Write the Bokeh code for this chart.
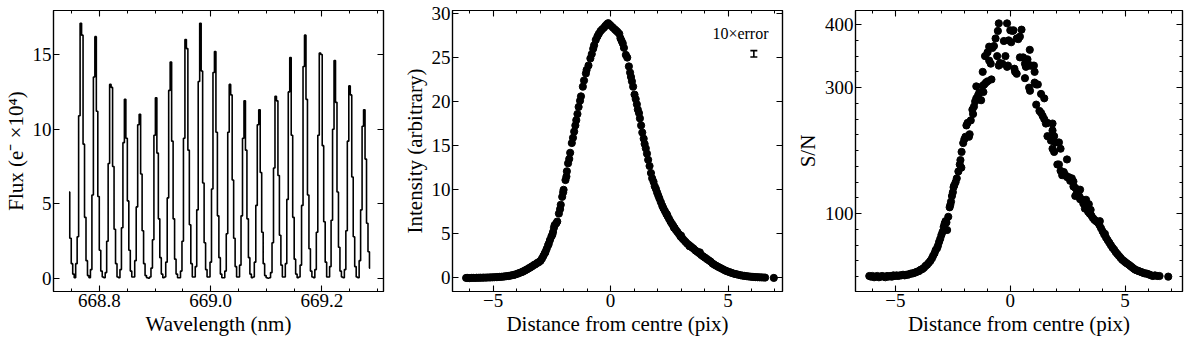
import numpy as np
from bokeh.plotting import figure
from bokeh.layouts import row
from bokeh.models import (Range1d, LinearAxis, FixedTicker, ColumnDataSource, Whisker, TeeHead,
                          CustomJSTickFormatter)
from bokeh.embed import file_html
from bokeh.resources import INLINE
from bokeh.core.properties import value

FONT = "Liberation Serif"

# ---------------- Panel 1: comb spectrum (step plot) ----------------
wl_start = 668.7455
wl_step = 0.002653
flux = [
    5.8, 2.7, 1.0, 0.3,
    0.05, 1.0, 2.8, 10.9, 17.1, 16.3, 9.0, 4.1, 1.2, 0.2,
    0.05, 0.6, 5.6, 13.5, 16.2, 11.2, 5.5, 1.9, 0.5, 0.1,
    0.05, 0.4, 2.5, 7.7, 13.0, 12.8, 7.5, 3.3, 1.0, 0.1,
    0.05, 0.6, 3.4, 9.1, 12.0, 9.4, 5.2, 1.9, 0.5, 0.1,
    0.1, 1.2, 4.8, 10.3, 11.0, 7.0, 3.2, 1.0, 0.2, 0.05, 0.02,
    0.1, 0.7, 2.6, 9.6, 12.1, 8.4, 4.0, 1.4, 0.3, 0.05,
    0.1, 1.1, 5.4, 12.6, 14.5, 9.2, 4.0, 1.3, 0.3, 0.05,
    0.05, 0.5, 2.5, 9.4, 16.0, 15.4, 8.6, 3.6, 1.0, 0.1,
    0.1, 0.8, 4.6, 13.2, 17.1, 13.9, 6.4, 2.4, 0.6, 0.1,
    0.1, 1.1, 6.0, 13.8, 15.2, 9.8, 4.2, 1.4, 0.3, 0.05,
    0.05, 0.5, 3.0, 9.8, 13.0, 12.3, 6.6, 2.7, 0.8, 0.1,
    0.1, 0.9, 4.2, 9.4, 11.9, 8.6, 4.0, 1.4, 0.3, 0.05,
    0.1, 1.1, 4.9, 10.3, 11.3, 7.1, 3.1, 1.0, 0.2, 0.05, 0.02,
    0.05, 0.4, 2.4, 7.4, 12.2, 11.9, 6.9, 2.9, 0.9, 0.1,
    0.1, 1.0, 5.3, 12.5, 14.8, 9.6, 4.1, 1.3, 0.3, 0.05,
    0.1, 0.9, 4.9, 14.2, 16.3, 12.0, 5.6, 2.0, 0.5, 0.1,
    0.05, 0.6, 3.1, 9.6, 15.1, 15.0, 8.9, 3.8, 1.1, 0.1,
    0.1, 0.8, 3.9, 10.0, 14.6, 11.8, 5.8, 2.1, 0.5, 0.1,
    0.05, 0.6, 3.2, 9.2, 12.9, 12.3, 6.8, 2.8, 0.8, 0.1,
    0.05, 1.2, 4.6, 10.2, 11.3, 8.0, 3.7, 1.8, 0.7,
]
wl = wl_start + wl_step * np.arange(len(flux))
p1_xticks = [668.8, 669.0, 669.2]
p1_xlabels = ["668.8", "669.0", "669.2"]
p1_xminor = [668.75, 668.85, 668.9, 668.95, 669.05, 669.1, 669.15, 669.25, 669.3]
p1_yticks = [0, 5, 10, 15]

# ---------------- Panel 2: intensity profile ----------------
mid_x = [-6.15, -6.08, -6.0, -5.92, -5.85, -5.77, -5.7, -5.62, -5.55, -5.47, -5.4, -5.32,
         -5.25, -5.17, -5.1, -5.02, -4.95, -4.87, -4.8, -4.72, -4.65, -4.57, -4.5, -4.42,
         -4.35, -4.27, -4.2, -4.12, -4.05, -3.97, -3.9,
         -3.82, -3.75, -3.69, -3.62, -3.55, -3.48, -3.41, -3.35, -3.27, -3.2, -3.12, -3.05,
         -2.98, -2.92, -2.86, -2.8, -2.77, -2.72, -2.66, -2.63, -2.58, -2.52, -2.48, -2.45,
         -2.41, -2.38, -2.31, -2.27, -2.2, -2.15, -2.12, -2.06, -2.02, -2.0, -1.92, -1.88,
         -1.86, -1.81, -1.76, -1.72, -1.65, -1.6, -1.55, -1.5, -1.46, -1.41, -1.36, -1.3,
         -1.26, -1.18, -1.13, -1.05, -1.02, -0.94, -0.86, -0.8, -0.74, -0.7, -0.63, -0.56,
         -0.5, -0.43, -0.36, -0.28, -0.22, -0.15, -0.1, -0.04, 0.02, 0.1, 0.18, 0.24, 0.3,
         0.37, 0.42, 0.47, 0.52, 0.57, 0.65, 0.71, 0.78, 0.83, 0.87, 0.91, 0.96, 1.02, 1.07,
         1.12, 1.16, 1.21, 1.25, 1.3, 1.35, 1.41, 1.45, 1.5, 1.55, 1.6, 1.66, 1.72, 1.77,
         1.83, 1.88, 1.93, 1.98, 2.03, 2.08, 2.14, 2.2, 2.25, 2.31, 2.37, 2.4, 2.43, 2.49,
         2.55, 2.61, 2.67, 2.7, 2.73, 2.79, 2.85, 2.92, 2.98, 3.0, 3.05, 3.12, 3.19, 3.26,
         3.33, 3.36, 3.4, 3.47, 3.54, 3.62, 3.7, 3.78, 3.8, 3.86, 3.94, 4.02, 4.1, 4.18,
         4.26, 4.34, 4.42, 4.5, 4.58, 4.66, 4.74, 4.82, 4.9, 4.98, 5.06, 5.14, 5.22, 5.3,
         5.38, 5.46, 5.54, 5.62, 5.7, 5.78, 5.86, 5.94, 6.02, 6.1, 6.18, 6.26, 6.34, 6.42,
         6.5, 6.58, 6.95]
mid_y = [0.0, 0.0, -0.02, 0.0, 0.01, 0.0, 0.02, 0.01, 0.03, 0.02, 0.04, 0.03,
         0.05, 0.05, 0.06, 0.07, 0.08, 0.09, 0.1, 0.12, 0.13, 0.15, 0.17, 0.2,
         0.22, 0.26, 0.3, 0.34, 0.4, 0.46, 0.55,
         0.62, 0.7, 0.78, 0.88, 0.98, 1.1, 1.2, 1.3, 1.45, 1.55, 1.7, 1.8,
         1.95, 2.2, 2.5, 2.8, 2.95, 3.3, 3.7, 3.9, 4.3, 4.7, 4.9, 5.2,
         5.7, 6.0, 6.2, 6.4, 7.3, 7.8, 8.3, 9.2, 9.7, 10.0, 11.1, 11.5,
         12.1, 13.0, 13.5, 14.2, 15.3, 15.9, 16.6, 17.3, 17.9, 18.6, 19.4, 20.1,
         20.6, 21.7, 22.4, 23.2, 23.6, 24.1, 24.9, 25.4, 26.0, 26.4, 27.0, 27.4,
         27.7, 28.0, 28.2, 28.4, 28.6, 28.8, 28.9, 28.75, 28.6, 28.4, 28.2, 28.05, 27.9,
         27.7, 27.2, 26.9, 26.6, 26.1, 25.3, 25.0, 24.0, 23.3, 22.8, 22.3, 21.7, 20.8, 20.3,
         19.7, 19.1, 18.7, 18.1, 17.3, 16.5, 15.8, 15.2, 14.7, 14.1, 13.4, 12.7, 11.9, 11.3,
         10.9, 10.4, 10.1, 9.7, 9.35, 9.0, 8.6, 8.2, 7.9, 7.6, 7.3, 7.2, 7.0, 6.7,
         6.4, 6.15, 5.9, 5.7, 5.65, 5.4, 5.2, 4.95, 4.7, 4.8, 4.5, 4.3, 4.1, 3.9,
         3.75, 3.6, 3.6, 3.45, 3.3, 3.1, 2.95, 2.8, 2.9, 2.6, 2.45, 2.3, 2.15, 2.0,
         1.85, 1.65, 1.5, 1.38, 1.26, 1.15, 1.04, 0.93, 0.82, 0.74, 0.66, 0.58, 0.51, 0.45,
         0.4, 0.35, 0.3, 0.26, 0.23, 0.2, 0.17, 0.15, 0.13, 0.11, 0.09, 0.08, 0.07, 0.06,
         0.05, 0.04, 0.0]
err_x = [6.1]
err_y = [25.43]
err_half = [0.36]
err_text = "10×error"
err_text_pos = (5.53, 27.76)

# ---------------- Panel 3: S/N ----------------
sn_x = [-6.14, -6.07, -6.0, -5.93, -5.86, -5.79, -5.72, -5.65, -5.58, -5.51, -5.44, -5.37,
        -5.3, -5.23, -5.16, -5.09, -5.02, -4.95, -4.88, -4.81, -4.74, -4.67, -4.6, -4.53,
        -4.46, -4.39, -4.32, -4.25, -4.18, -4.11, -4.04, -3.97, -3.9, -3.83, -3.76, -3.69,
        -3.62, -3.55, -3.48, -3.41, -3.36, -3.3, -3.25, -3.19, -3.15, -3.1, -3.05, -3.0,
        -2.95, -2.9, -2.86, -2.82, -2.78, -2.75, -2.7, -2.64, -2.61, -2.58, -2.54, -2.5,
        -2.47, -2.44, -2.38, -2.33, -2.26, -2.2, -2.17, -2.13, -2.12, -2.05, -2.0, -1.95,
        -1.91, -1.86, -1.8, -1.77, -1.72, -1.65, -1.62, -1.58, -1.53, -1.48, -1.48, -1.4,
        -1.35, -1.27, -1.2, -1.2, -1.17, -1.13, -1.1, -1.06, -0.99, -0.99, -0.92, -0.92,
        -0.85, -0.82, -0.78, -0.71, -0.64, -0.57, -0.54, -0.5, -0.5, -0.45, -0.35, -0.28,
        -0.21, -0.14, -0.14, -0.1, -0.07, 0.0, 0.04, 0.1, 0.14, 0.18, 0.21, 0.28, 0.28,
        0.35, 0.42, 0.42, 0.49, 0.56, 0.64, 0.64, 0.68, 0.75, 0.82, 0.85, 0.85, 0.86, 0.92,
        1.03, 1.06, 1.06, 1.13, 1.13, 1.2, 1.27, 1.34, 1.34, 1.41, 1.48, 1.48, 1.55, 1.62,
        1.62, 1.77, 1.84, 1.84, 1.84, 1.91, 1.91, 1.91, 1.98, 2.05, 2.12, 2.12, 2.19, 2.19,
        2.26, 2.33, 2.4, 2.47, 2.47, 2.54, 2.61, 2.61, 2.68, 2.75, 2.75, 2.83, 2.83, 2.9,
        2.97, 3.0, 3.04, 3.04, 3.1, 3.18, 3.25, 3.3, 3.32, 3.39, 3.42, 3.46, 3.5, 3.53,
        3.6, 3.67, 3.74, 3.81, 3.88, 3.9, 3.95, 4.02, 4.09, 4.12, 4.17, 4.24, 4.31, 4.38,
        4.45, 4.52, 4.59, 4.66, 4.73, 4.8, 4.87, 4.94, 5.01, 5.08, 5.16, 5.23, 5.3, 5.37,
        5.44, 5.51, 5.58, 5.65, 5.72, 5.79, 5.86, 5.93, 6.0, 6.07, 6.14, 6.21, 6.3, 6.4,
        6.5, 6.88]
sn_y = [1, 0, 1, -1, 0, 1, -1, 0, 1, 0, -1, 1,
        0, 1, 0, 2, 1, 2, 1, 2, 2, 3, 2, 3,
        3, 4, 5, 5, 6, 7, 8, 9, 11, 12, 14, 17,
        19, 22, 25, 29, 33, 37, 42, 45, 49, 55, 60, 66,
        71, 79, 84, 88, 86, 74, 95, 110, 114, 119, 128, 134,
        142, 145, 150, 156, 167, 178, 185, 173, 198, 212, 218, 222,
        240, 244, 222, 226, 248, 265, 258, 270, 278, 283, 302, 288,
        292, 280, 303, 325, 293, 305, 350, 308, 310, 356, 343, 365,
        338, 313, 363, 366, 378, 350, 390, 402, 335, 339, 338, 374,
        350, 402, 333, 335, 375, 391, 372, 390, 391, 330, 325, 322, 378,
        377, 381, 348, 392, 348, 338, 315, 333, 345, 300, 360, 335, 295, 335,
        335, 325, 308, 305, 273, 305, 263, 290, 260, 255, 283, 250, 243, 244,
        223, 216, 243, 232, 203, 223, 214, 198, 213, 178, 213, 178, 203, 168,
        161, 166, 161, 186, 158, 158, 152, 156, 156, 143, 151, 141, 128, 133,
        136, 128, 123, 138, 123, 116, 108, 122, 113, 103, 115, 100, 106, 97,
        93, 90, 88, 86, 82, 88, 77, 72, 67, 68, 62, 58, 54, 50,
        46, 43, 39, 36, 33, 30, 27, 25, 23, 21, 19, 17, 15, 13,
        11, 10, 9, 8, 7, 6, 5, 5, 4, 3, 2, 1, 2, 1,
        1, 0]
dist_ticks = [-5, 0, 5]
dist_minor = [-6, -4, -3, -2, -1, 1, 2, 3, 4, 6, 7]
int_ticks = [0, 5, 10, 15, 20, 25, 30]
sn_ticks = [100, 300, 400]
sn_minor = [0, 25, 50, 75, 125, 150, 175, 200, 225, 250, 275, 325, 350, 375]

H = 338
BT = 10
BB = 46


def style_axis(ax):
    ax.major_tick_in = 6
    ax.major_tick_out = 0
    ax.minor_tick_in = 3
    ax.minor_tick_out = 0
    ax.axis_line_color = "black"
    ax.axis_line_width = 1.2
    ax.major_tick_line_color = "black"
    ax.major_tick_line_width = 1.1
    ax.minor_tick_line_color = "black"
    ax.minor_tick_line_width = 1.0


def make_fig(width, bl, br, xr, yr, xt, xm, yt, ym, xlabel, ylabel, xover=None):
    p = figure(width=width, height=H, x_range=Range1d(*xr), y_range=Range1d(*yr),
               output_backend="svg", toolbar_location=None,
               min_border_left=bl, min_border_right=br, min_border_top=BT, min_border_bottom=BB)
    p.grid.visible = False
    p.outline_line_color = "black"
    p.outline_line_width = 1.2
    p.background_fill_color = "white"
    p.border_fill_color = "white"
    bottom = p.below[0]
    left = p.left[0]
    bottom.ticker = FixedTicker(ticks=xt, minor_ticks=xm)
    left.ticker = FixedTicker(ticks=yt, minor_ticks=ym)
    for ax in [bottom, left]:
        style_axis(ax)
        ax.major_label_text_font = FONT
        ax.major_label_text_font_size = "19px"
        ax.major_label_text_color = "black"
        ax.major_label_standoff = 2
        ax.axis_label_text_font = FONT
        ax.axis_label_text_font_size = "21px"
        ax.axis_label_text_font_style = "normal"
        ax.axis_label_text_color = "black"
        ax.axis_label_standoff = 2
    bottom.axis_label = xlabel
    left.axis_label = ylabel
    if xover:
        bottom.major_label_overrides = xover
    blank = "return ''"
    top = LinearAxis(ticker=FixedTicker(ticks=xt, minor_ticks=xm),
                     formatter=CustomJSTickFormatter(code=blank))
    right = LinearAxis(ticker=FixedTicker(ticks=yt, minor_ticks=ym),
                       formatter=CustomJSTickFormatter(code=blank))
    for ax in [top, right]:
        style_axis(ax)
        ax.major_label_text_font_size = "1px"
        ax.major_label_standoff = 0
    p.add_layout(top, "above")
    p.add_layout(right, "right")
    return p


p1 = make_fig(399, 52, 16, (668.7176, 669.3106), (-0.866, 17.95),
              p1_xticks, p1_xminor, p1_yticks, [],
              "Wavelength (nm)", "Flux (e⁻ ×10⁴)",
              xover={t: s for t, s in zip(p1_xticks, p1_xlabels)})
p1.step(wl, flux, mode="center", line_color="black", line_width=1.6)

minus = {-5: "−5", 0: "0", 5: "5"}
p2 = make_fig(393, 52, 10, (-6.73, 7.32), (-1.54, 30.34),
              dist_ticks, dist_minor, int_ticks, [],
              "Distance from centre (pix)", "Intensity (arbitrary)", xover=minus)
p2.scatter(mid_x, mid_y, size=7.2, color="black")
esrc = ColumnDataSource(dict(x=err_x, up=[y + h for y, h in zip(err_y, err_half)],
                             lo=[y - h for y, h in zip(err_y, err_half)]))
p2.add_layout(Whisker(source=esrc, base="x", upper="up", lower="lo", dimension="height",
                      line_color="black", line_width=1.6,
                      upper_head=TeeHead(size=7, line_width=1.6, line_color="black"),
                      lower_head=TeeHead(size=7, line_width=1.6, line_color="black")))
p2.text(x=[err_text_pos[0]], y=[err_text_pos[1]], text=[err_text], text_font=value(FONT),
        text_font_size="16px", text_align="center", text_baseline="middle", text_color="black")

p3 = make_fig(392, 62, 2, (-6.74, 7.5), (-23.6, 422.4),
              dist_ticks, dist_minor, sn_ticks, sn_minor,
              "Distance from centre (pix)", "S/N", xover=minus)
p3.scatter(sn_x, sn_y, size=7.2, color="black")

layout = row(p1, p2, p3, spacing=0)
open("out.html", "w").write(file_html(layout, INLINE))
